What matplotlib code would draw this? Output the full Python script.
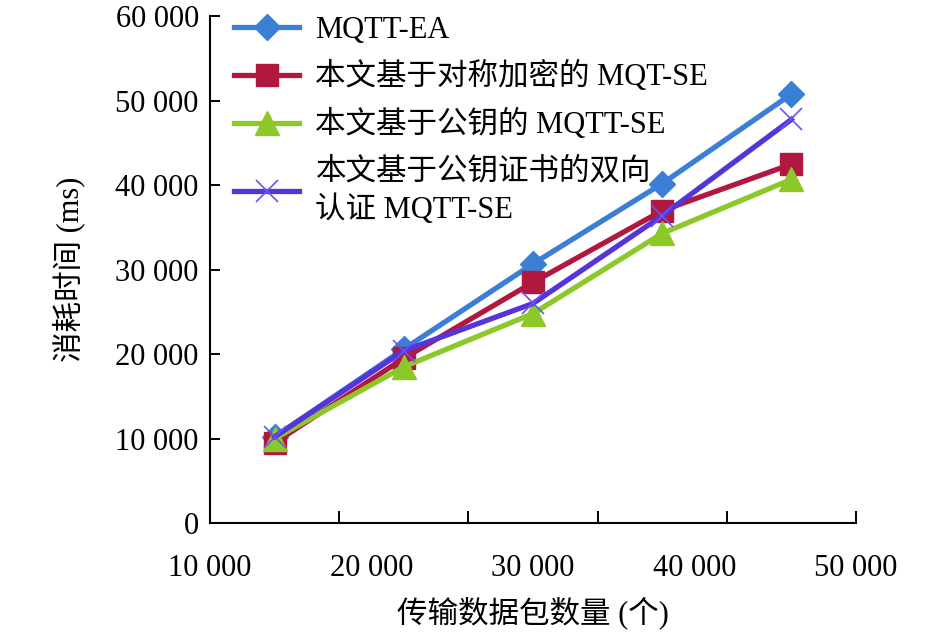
import matplotlib
matplotlib.use("Agg")
import matplotlib.pyplot as plt
import numpy as np

plt.rcParams['font.family'] = ['Liberation Serif', 'Noto Sans CJK SC']

# ---- data ----
x_labels = ["10 000", "20 000", "30 000", "40 000", "50 000"]
y_ticks = [0, 10000, 20000, 30000, 40000, 50000, 60000]
y_labels = ["0", "10 000", "20 000", "30 000", "40 000", "50 000", "60 000"]

mqtt_ea = [10200, 20600, 30700, 40200, 50800]
sym_se = [9500, 19500, 28500, 37000, 42500]
pub_se = [10000, 18500, 24800, 34300, 40700]
cert_se = [10200, 20400, 26000, 36400, 47800]

series_names = ["MQTT-EA", "本文基于对称加密的 MQT-SE", "本文基于公钥的 MQTT-SE",
                "本文基于公钥证书的双向\n认证 MQTT-SE"]

fig = plt.figure(figsize=(9.45, 6.36), dpi=100)
ax = fig.add_axes([0.2222, 0.1777, 0.6836, 0.7964])

n = len(mqtt_ea)
xpos = np.arange(n) + 0.5

ax.plot(xpos, mqtt_ea, color='#3A7FD5', lw=3.8, marker='D', ms=13, mec='#3A7FD5', label=series_names[0])
ax.plot(xpos, sym_se, color='#B0183F', lw=3.8, marker='s', ms=16, mec='#B0183F', label=series_names[1])
ax.plot(xpos, pub_se, color='#8CC82A', lw=3.8, marker='^', ms=17, mec='#8CC82A', label=series_names[2])
ax.plot(xpos, cert_se, color='#5535DA', lw=3.8, marker='x', ms=16, mew=1.2, mec='#6A55F0', label=series_names[3])

ax.set_xlim(0, n)
ax.set_ylim(0, 60000)

# category tick marks (between categories), labels placed along axis
ax.xaxis.remove_overlapping_locs = False
ax.set_xticks(np.arange(n + 1))
ax.set_xticklabels([])
ax.set_xticks(np.linspace(0, n, len(x_labels)), minor=True)
ax.set_xticklabels(x_labels, minor=True)
ax.tick_params(axis='x', which='major', direction='in', length=9, width=1.4)
ax.tick_params(axis='x', which='minor', length=0, pad=22, labelsize=22)

ax.set_yticks(y_ticks)
ax.set_yticklabels(y_labels)
ax.tick_params(axis='y', direction='in', length=7, width=1.4, pad=8, labelsize=22)

for s in ['top', 'right']:
    ax.spines[s].set_visible(False)
for s in ['left', 'bottom']:
    ax.spines[s].set_linewidth(1.5)

ax.set_xlabel("传输数据包数量 (个)", fontsize=22, labelpad=10)
ax.set_ylabel("消耗时间 (ms)", fontsize=22, labelpad=22)

leg = ax.legend(loc='upper left', bbox_to_anchor=(0.0, 1.05), frameon=False, fontsize=22,
                handlelength=2.1, handletextpad=0.55, labelspacing=0.55, borderaxespad=0.4)
for t in leg.get_texts():
    t.set_linespacing(1.35)

fig.savefig("out.png", dpi=100)
